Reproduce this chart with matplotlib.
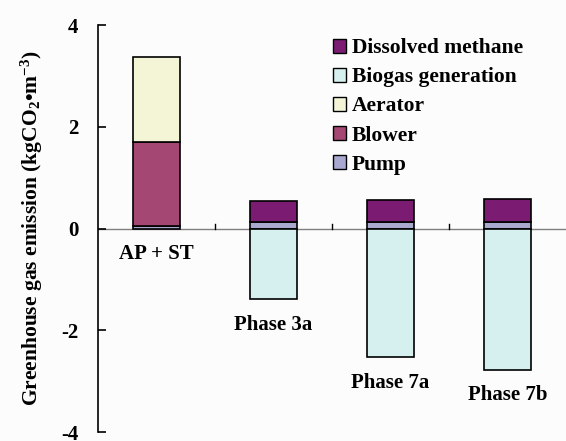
import numpy as np
import matplotlib.pyplot as plt
from matplotlib.patches import Patch

plt.rcParams['font.family'] = ['Liberation Serif', 'DejaVu Serif']
plt.rcParams['font.weight'] = 'bold'
plt.rcParams['mathtext.fontset'] = 'custom'
plt.rcParams['mathtext.rm'] = 'Liberation Serif:bold'
plt.rcParams['mathtext.bf'] = 'Liberation Serif:bold'
plt.rcParams['mathtext.default'] = 'bf'

# data (kgCO2 per m3)
groups = ['AP + ST', 'Phase 3a', 'Phase 7a', 'Phase 7b']
pump = [0.06, 0.14, 0.14, 0.14]
blower = [1.65, 0, 0, 0]
aerator = [1.66, 0, 0, 0]
dissolved = [0, 0.41, 0.42, 0.45]
biogas = [0, -1.39, -2.53, -2.78]

c_dis = '#7B1C72'
c_bio = '#D6EFEF'
c_aer = '#F3F5D6'
c_blo = '#A44873'
c_pump = '#A9A9D0'

fig = plt.figure(figsize=(5.66, 4.41), dpi=100)
fig.patch.set_facecolor('#FCFCFC')
ax = fig.add_axes([0.173, 0.02, 0.827, 0.923])
ax.set_facecolor('#FCFCFC')

x = np.arange(len(groups))
w = 0.4
kw = dict(width=w, edgecolor='black', linewidth=1.2)

pump = np.array(pump)
blower = np.array(blower)
aerator = np.array(aerator)
dissolved = np.array(dissolved)

ax.bar(x, pump, color=c_pump, **kw)
m = blower > 0
ax.bar(x[m], blower[m], bottom=pump[m], color=c_blo, **kw)
m = aerator > 0
ax.bar(x[m], aerator[m], bottom=(pump + blower)[m], color=c_aer, **kw)
m = dissolved > 0
ax.bar(x[m], dissolved[m], bottom=pump[m], color=c_dis, **kw)
biogas = np.array(biogas)
m = biogas < 0
ax.bar(x[m], biogas[m], color=c_bio, **kw)

ax.axhline(0, color='#808080', linewidth=1, zorder=0)
# small ticks between categories on the zero line
for b in x[:-1] + 0.5:
    ax.plot([b, b], [0, 0.1], color='black', linewidth=1)

# group labels under bars
for xi, name, low in zip(x, groups, biogas):
    ax.text(xi, min(low, 0) - 0.3, name, ha='center', va='top',
            fontsize=15, fontweight='bold')

ax.set_xlim(-0.5, 3.5)
ax.set_ylim(-4, 4)
ax.set_yticks([-4, -2, 0, 2, 4])
ax.set_yticklabels(['-4', '-2', '0', '2', '4'], fontsize=15, fontweight='bold')
ax.tick_params(axis='y', direction='in', length=6, width=1.2, pad=14)
ax.set_xticks([])
for s in ['top', 'right', 'bottom']:
    ax.spines[s].set_visible(False)
ax.spines['left'].set_linewidth(1.2)
ax.set_ylabel('Greenhouse gas emission (kgCO$_2$•m$^{-3}$)',
              fontsize=15.5, fontweight='bold', labelpad=12)

handles = [Patch(facecolor=c_dis, edgecolor='black', label='Dissolved methane'),
           Patch(facecolor=c_bio, edgecolor='black', label='Biogas generation'),
           Patch(facecolor=c_aer, edgecolor='black', label='Aerator'),
           Patch(facecolor=c_blo, edgecolor='black', label='Blower'),
           Patch(facecolor=c_pump, edgecolor='black', label='Pump')]
ax.legend(handles=handles, loc='upper left', bbox_to_anchor=(0.46, 1.015),
          frameon=False, prop={'size': 15.5, 'weight': 'bold'},
          handlelength=0.6, handleheight=0.6, handletextpad=0.3,
          labelspacing=0.42)

fig.savefig('out.png', dpi=100, facecolor=fig.get_facecolor())
